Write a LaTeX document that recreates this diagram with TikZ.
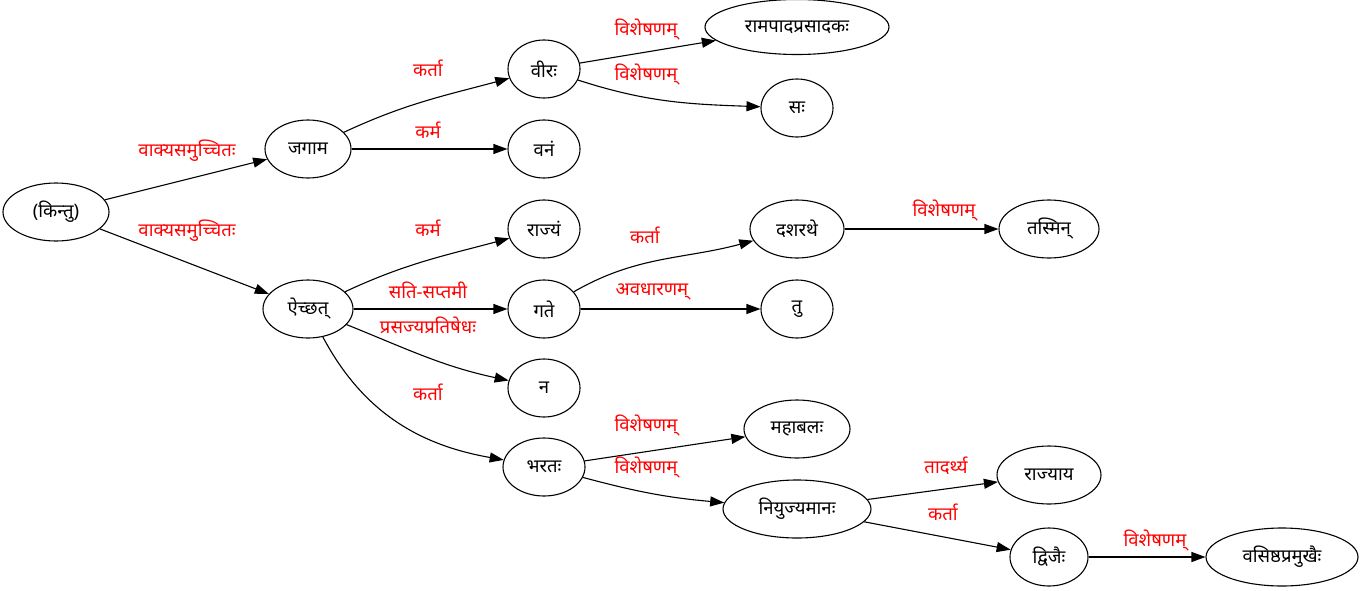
\documentclass[tikz,border=0pt]{standalone}
\usepackage{fontspec}
\setmainfont[Script=Devanagari]{Noto Sans}
\usetikzlibrary{shapes.geometric,arrows.meta}
\tikzset{
  nd/.style={ellipse, draw, line width=1.1pt, inner sep=0pt, minimum height=58pt, font=\fontsize{18.5}{22}\selectfont},
  lb/.style={text=red, inner sep=0pt, font=\fontsize{18.5}{22}\selectfont},
  ar/.style={-{Triangle[length=14pt,width=10pt]}, line width=1.1pt},
}
\begin{document}
\begin{tikzpicture}[x=1pt,y=1pt]
\useasboundingbox (0,0) rectangle (1361,-590);
% nodes
\node[nd, minimum width=106pt] (kintu) at (56,-212) {(किन्तु)};
\node[nd, minimum width=86pt] (jagama) at (308,-149) {जगाम};
\node[nd, minimum width=90pt] (aicchat) at (308,-309) {ऐच्छत्};
\node[nd, minimum width=72pt] (vira) at (544,-69) {वीरः};
\node[nd, minimum width=72pt] (vanam) at (544,-149) {वनं};
\node[nd, minimum width=184pt, minimum height=55pt] (rama) at (797,-27) {रामपादप्रसादकः};
\node[nd, minimum width=72pt] (sah) at (797,-108) {सः};
\node[nd, minimum width=72pt] (rajyam) at (544,-229) {राज्यं};
\node[nd, minimum width=72pt] (gate) at (544,-309) {गते};
\node[nd, minimum width=72pt] (na) at (544,-388) {न};
\node[nd, minimum width=82pt] (bharata) at (544,-467) {भरतः};
\node[nd, minimum width=94pt] (dasharathe) at (797,-229) {दशरथे};
\node[nd, minimum width=72pt] (tu) at (797,-309) {तु};
\node[nd, minimum width=100pt] (tasmin) at (1049,-229) {तस्मिन्};
\node[nd, minimum width=106pt] (mahabala) at (797,-429) {महाबलः};
\node[nd, minimum width=148pt] (niyujya) at (797,-509) {नियुज्यमानः};
\node[nd, minimum width=104pt] (rajyaya) at (1049,-475) {राज्याय};
\node[nd, minimum width=78pt] (dvijaih) at (1049,-557) {द्विजैः};
\node[nd, minimum width=152pt] (vasishtha) at (1282,-557) {वसिष्ठप्रमुखैः};
% labels
\node[lb] (l1) at (187,-151) {वाक्यसमुच्चितः};
\node[lb] (l2) at (187,-231) {वाक्यसमुच्चितः};
\node[lb] (l3) at (428,-68) {कर्ता};
\node[lb] (l4) at (428,-130) {कर्म};
\node[lb] (l5) at (646,-30) {विशेषणम्};
\node[lb] (l6) at (646,-75) {विशेषणम्};
\node[lb] (l7) at (428,-228) {कर्म};
\node[lb] (l8) at (428,-290) {सति-सप्तमी};
\node[lb] (l9) at (428,-325) {प्रसज्यप्रतिषेधः};
\node[lb] (l10) at (428,-392) {कर्ता};
\node[lb] (l11) at (645,-235) {कर्ता};
\node[lb] (l12) at (652,-292) {अवधारणम्};
\node[lb] (l13) at (944,-211) {विशेषणम्};
\node[lb] (l14) at (646,-426) {विशेषणम्};
\node[lb] (l15) at (646,-468) {विशेषणम्};
\node[lb] (l16) at (946,-466) {तादर्थ्य};
\node[lb] (l17) at (943,-512) {कर्ता};
\node[lb] (l18) at (1155,-541) {विशेषणम्};
% edges
\draw[ar] (kintu) -- (jagama);
\draw[ar] (kintu) -- (aicchat);
\draw[ar] (jagama) to[out=25,in=195] (vira);
\draw[ar] (jagama) -- (vanam);
\draw[ar] (vira) -- (rama);
\draw[ar] (vira) to[out=-18,in=178] (sah);
\draw[ar] (aicchat) to[out=25,in=195] (rajyam);
\draw[ar] (aicchat) -- (gate);
\draw[ar] (aicchat) to[out=-22,in=168] (na);
\draw[ar] (aicchat) to[out=-62,in=170] (bharata);
\draw[ar] (gate) to[out=30,in=195] (dasharathe);
\draw[ar] (gate) -- (tu);
\draw[ar] (dasharathe) -- (tasmin);
\draw[ar] (bharata) -- (mahabala);
\draw[ar] (bharata) to[out=-15,in=175] (niyujya);
\draw[ar] (niyujya) -- (rajyaya);
\draw[ar] (niyujya) -- (dvijaih);
\draw[ar] (dvijaih) -- (vasishtha);
\end{tikzpicture}
\end{document}
